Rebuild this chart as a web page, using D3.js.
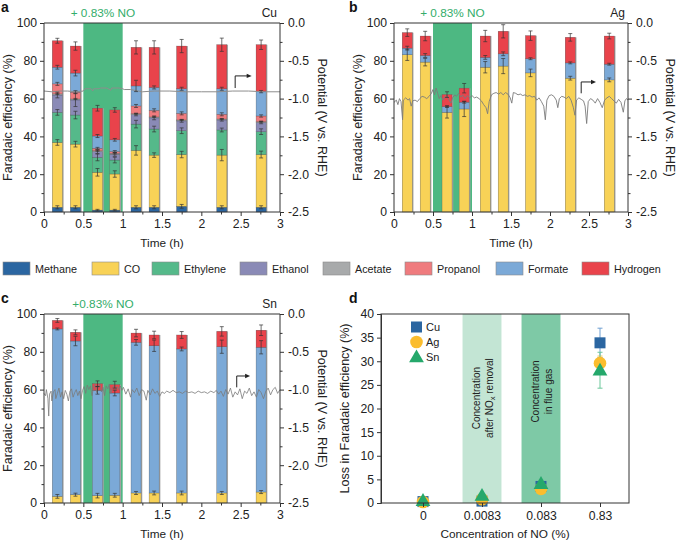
<!DOCTYPE html>
<html><head><meta charset="utf-8">
<script src="https://cdn.jsdelivr.net/npm/d3@7"></script>
<style>body{margin:0;background:#fff}svg{font-family:'Liberation Sans',Arial,Helvetica,sans-serif}</style>
</head><body><svg id="c" width="676" height="540"></svg>
<script>
// ---------- DATA ----------
const times = [0.17, 0.40, 0.68, 0.90, 1.17, 1.40, 1.75, 2.26, 2.76];
const noWindow = [0.5, 1.0];
const speciesNames = ["Methane","CO","Ethylene","Ethanol","Acetate","Propanol","Formate","Hydrogen"];
const speciesColors = ["#2b66a1","#f8d257","#55b98a","#8a8ab6","#a8aaab","#ef7b7e","#7ba9d7","#e9434b"];

// Cu (panel a)
const cuMethane  = [2.5, 2.5, 1.0, 1.0, 2.5, 2.5, 3.0, 2.5, 2.5];
const cuCO       = [34.3, 33.4, 20.0, 19.1, 30.1, 27.6, 27.4, 27.6, 27.9];
const cuEthylene = [15.9, 15.4, 7.9, 7.4, 13.9, 13.8, 12.6, 13.3, 12.1];
const cuEthanol  = [9.2, 8.0, 3.0, 3.0, 5.0, 5.9, 5.2, 5.3, 4.8];
const cuAcetate  = [0.6, 0.5, 0.5, 0.5, 0.5, 0.5, 0.5, 0.5, 0.5];
const cuPropanol = [5.3, 3.6, 1.3, 1.0, 4.1, 3.5, 3.5, 2.5, 3.0];
const cuFormate  = [8.8, 10.1, 6.5, 6.2, 10.6, 12.1, 13.0, 13.5, 12.9];
const cuHydrogen = [14.0, 14.3, 14.7, 15.8, 20.4, 21.2, 22.6, 23.3, 24.8];
const cuMethaneErr  = [0.8, 0.8, 0.4, 0.4, 0.8, 0.8, 1.0, 0.8, 0.8];
const cuCOErr       = [1.5, 1.5, 2.0, 1.7, 2.5, 1.2, 1.7, 3.0, 1.8];
const cuEthyleneErr = [1.5, 2.0, 1.8, 1.5, 2.0, 1.5, 1.5, 1.0, 1.5];
const cuEthanolErr  = [1.5, 3.5, 1.0, 1.0, 0.6, 1.0, 0.7, 0.6, 0.6];
const cuAcetateErr  = [0.3, 0.3, 0.3, 0.3, 0.3, 0.3, 0.3, 0.3, 0.3];
const cuPropanolErr = [0.8, 0.8, 0.5, 0.5, 0.8, 0.8, 0.8, 0.8, 0.6];
const cuFormateErr  = [1.0, 1.5, 0.8, 0.7, 3.0, 0.8, 0.8, 0.8, 0.6];
const cuHydrogenErr = [1.3, 2.2, 1.5, 1.2, 3.5, 3.5, 3.5, 3.5, 2.5];
const cuPotential = [[0,-0.90],[0.1,-0.91],[0.2,-0.90],[0.3,-0.90],[0.4,-0.91],[0.5,-0.90],[0.52,-0.87],[0.6,-0.87],[0.62,-0.90],[0.63,-0.87],[0.7,-0.87],[0.72,-0.86],[0.8,-0.86],[0.85,-0.89],[0.86,-0.86],[0.95,-0.86],[1.0,-0.87],[1.02,-0.88],[1.1,-0.88],[1.2,-0.90],[1.25,-0.91],[1.4,-0.90],[1.6,-0.90],[1.8,-0.91],[2.0,-0.91],[2.2,-0.91],[2.4,-0.90],[2.6,-0.90],[2.8,-0.91],[3.0,-0.91]];
const cuArrow = [2.43, -0.86, -0.70, 2.64];

// Ag (panel b)
const agCO       = [83.2, 79.3, 52.7, 54.5, 76.6, 77.2, 73.6, 70.8, 69.9];
const agFormate  = [3.5, 3.5, 3.1, 3.6, 5.2, 6.5, 7.5, 8.1, 8.3];
const agHydrogen = [8.2, 10.3, 6.3, 7.4, 11.3, 11.9, 12.2, 13.5, 14.9];
const agCOErr       = [3.0, 2.0, 3.0, 4.0, 3.0, 4.0, 2.0, 1.0, 1.0];
const agFormateErr  = [1.0, 1.0, 0.5, 0.5, 1.0, 1.0, 0.5, 0.5, 0.5];
const agHydrogenErr = [2.0, 2.5, 1.5, 2.5, 3.0, 3.5, 2.5, 2.0, 1.5];
const agPotential = [[0,-1.05],[0.03,-1.02],[0.05,-1.08],[0.07,-1.00],[0.09,-1.04],[0.11,-1.28],[0.12,-1.02],[0.15,-0.99],[0.18,-1.02],[0.20,-1.00],[0.22,-1.10],[0.24,-1.03],[0.27,-1.02],[0.30,-1.04],[0.33,-1.00],[0.36,-0.97],[0.39,-0.98],[0.42,-1.00],[0.45,-0.97],[0.48,-0.93],[0.50,-0.88],[0.52,-0.95],[0.54,-0.86],[0.56,-0.93],[0.58,-1.00],[0.60,-0.96],[0.63,-1.02],[0.65,-0.98],[0.68,-0.96],[0.70,-1.01],[0.73,-1.06],[0.75,-0.99],[0.78,-0.95],[0.80,-0.97],[0.83,-0.93],[0.86,-0.98],[0.88,-0.95],[0.91,-1.00],[0.94,-0.96],[0.97,-0.99],[1.00,-0.96],[1.03,-0.99],[1.06,-0.98],[1.09,-1.00],[1.12,-1.03],[1.15,-1.08],[1.18,-1.12],[1.20,-1.20],[1.22,-1.04],[1.25,-0.95],[1.28,-0.93],[1.31,-0.92],[1.34,-0.94],[1.37,-0.92],[1.40,-0.95],[1.43,-0.92],[1.46,-0.94],[1.49,-0.99],[1.51,-1.06],[1.53,-0.92],[1.56,-0.93],[1.59,-0.95],[1.62,-0.94],[1.65,-0.96],[1.68,-0.95],[1.71,-0.97],[1.74,-0.96],[1.77,-0.98],[1.80,-0.97],[1.83,-1.02],[1.86,-0.99],[1.89,-1.04],[1.92,-1.10],[1.94,-1.28],[1.96,-1.02],[1.99,-0.96],[2.02,-0.95],[2.05,-0.97],[2.08,-1.02],[2.10,-1.12],[2.12,-1.00],[2.15,-0.97],[2.18,-0.98],[2.21,-1.00],[2.24,-0.97],[2.27,-1.02],[2.30,-1.12],[2.32,-1.22],[2.34,-1.02],[2.37,-0.99],[2.40,-1.01],[2.43,-1.03],[2.45,-1.10],[2.47,-1.33],[2.49,-1.04],[2.52,-1.00],[2.55,-1.02],[2.58,-1.06],[2.61,-1.00],[2.64,-1.05],[2.67,-1.12],[2.70,-1.02],[2.73,-0.99],[2.76,-0.97],[2.79,-1.00],[2.82,-1.03],[2.85,-1.06],[2.88,-1.01],[2.91,-1.05],[2.94,-1.18],[2.96,-1.03],[2.98,-1.00],[3.00,-1.02]];
const agArrow = [2.40, -0.93, -0.78, 2.59];

// Sn (panel c)
const snCO       = [3.5, 4.4, 3.9, 4.1, 5.3, 5.3, 5.3, 5.3, 5.8];
const snFormate  = [88.6, 81.3, 55.7, 54.1, 79.7, 77.9, 76.2, 77.4, 76.6];
const snHydrogen = [4.5, 4.6, 3.5, 4.4, 4.9, 5.7, 7.4, 8.1, 9.0];
const snCOErr       = [1.0, 0.8, 1.2, 1.0, 0.8, 1.0, 1.0, 0.8, 0.8];
const snFormateErr  = [0.5, 2.5, 2.0, 1.5, 1.5, 3.0, 1.0, 3.5, 3.5];
const snHydrogenErr = [1.0, 1.3, 1.5, 1.8, 2.0, 2.0, 1.8, 2.5, 2.8];
const snPotential = [[0,-1.05],[0.02,-1.08],[0.03,-1.00],[0.05,-1.12],[0.06,-1.35],[0.07,-1.06],[0.09,-1.02],[0.10,-1.15],[0.12,-1.03],[0.14,-1.00],[0.15,-1.12],[0.17,-1.05],[0.19,-0.98],[0.21,-1.10],[0.23,-1.03],[0.25,-1.12],[0.27,-1.01],[0.29,-1.06],[0.31,-1.15],[0.33,-1.02],[0.35,-0.99],[0.37,-1.10],[0.39,-1.04],[0.41,-1.00],[0.43,-1.08],[0.45,-1.02],[0.47,-1.12],[0.49,-1.01],[0.51,-0.96],[0.53,-1.05],[0.55,-0.94],[0.57,-1.00],[0.59,-0.95],[0.61,-1.08],[0.63,-0.97],[0.65,-0.93],[0.67,-1.04],[0.69,-0.96],[0.71,-0.92],[0.73,-1.03],[0.75,-0.97],[0.77,-1.08],[0.79,-0.95],[0.81,-0.99],[0.83,-0.93],[0.85,-1.05],[0.87,-0.97],[0.89,-0.95],[0.91,-1.02],[0.93,-0.96],[0.95,-1.00],[0.97,-0.95],[0.99,-1.01],[1.01,-0.97],[1.04,-1.06],[1.07,-0.99],[1.10,-1.10],[1.12,-1.00],[1.15,-1.04],[1.18,-0.98],[1.21,-1.08],[1.24,-1.00],[1.27,-1.02],[1.30,-1.14],[1.32,-1.01],[1.35,-1.07],[1.38,-0.99],[1.41,-1.05],[1.44,-1.02],[1.47,-1.09],[1.50,-1.03],[1.53,-1.05],[1.56,-1.02],[1.60,-1.04],[1.64,-1.01],[1.68,-1.04],[1.72,-1.03],[1.76,-1.05],[1.80,-1.02],[1.84,-1.04],[1.88,-1.03],[1.92,-1.05],[1.96,-1.02],[2.00,-1.04],[2.04,-1.03],[2.08,-1.05],[2.12,-1.02],[2.16,-1.04],[2.19,-1.01],[2.22,-1.06],[2.25,-1.02],[2.28,-1.09],[2.31,-1.00],[2.34,-1.06],[2.37,-0.98],[2.40,-1.10],[2.43,-1.03],[2.46,-1.07],[2.49,-0.99],[2.52,-1.12],[2.55,-1.02],[2.58,-1.05],[2.61,-0.98],[2.64,-1.08],[2.67,-1.03],[2.70,-1.10],[2.73,-1.00],[2.76,-1.04],[2.79,-1.12],[2.82,-1.02],[2.85,-0.98],[2.88,-1.07],[2.91,-1.00],[2.94,-0.97],[2.97,-1.05],[3.00,-1.00]];
const snArrow = [2.45, -0.97, -0.82, 2.62];

// Ticks
const feTicks = [0, 20, 40, 60, 80, 100];
const feMinor = [10, 30, 50, 70, 90];
const potTicks = [-2.5, -2.0, -1.5, -1.0, -0.5, 0.0];
const potMinor = [-2.25, -1.75, -1.25, -0.75, -0.25];
const timeTicks = [0, 0.5, 1, 1.5, 2, 2.5, 3];
const timeMinor = [0.25, 0.75, 1.25, 1.75, 2.25, 2.75];

// Panel d
const noConc = ["0", "0.0083", "0.083", "0.83"];
const lossCu = [0.3, 0.4, 3.5, 33.9];
const lossAg = [0.2, 0.8, 3.0, 29.6];
const lossSn = [0.5, 1.6, 4.1, 28.1];
const lossCuErr = [0.3, 0.3, 0.8, 3.1];
const lossAgErr = [0.3, 0.3, 0.6, 1.5];
const lossSnErr = [0.3, 0.4, 0.8, 3.8];
const lossTicks = [0, 5, 10, 15, 20, 25, 30, 35, 40];

// ---------- DRAWING ----------
const svg = d3.select("#c");
const AX = "#333";
const bandGreen = "#4db882";
const noTextGreen = "#33ad6b";
const colorOf = n => speciesColors[speciesNames.indexOf(n)];

function styleAxis(sel) {
  sel.selectAll("path").attr("stroke", AX).attr("stroke-width", 1);
  sel.selectAll("line").attr("stroke", AX).attr("stroke-width", 1);
  sel.selectAll("text").attr("fill", "#222").attr("font-size", 12.2);
}

function drawTimePanel(p) {
  const g = svg.append("g");
  const x = d3.scaleLinear().domain([0, 3]).range([p.left, p.right]);
  const y = d3.scaleLinear().domain([0, 100]).range([p.bottom, p.top]);
  const yr = d3.scaleLinear().domain([-2.5, 0]).range([p.bottom, p.top]);

  g.append("rect").attr("x", x(noWindow[0])).attr("width", x(noWindow[1]) - x(noWindow[0]))
    .attr("y", p.top).attr("height", p.bottom - p.top).attr("fill", bandGreen);

  const keys = p.series.map(s => s.name);
  const rows = times.map((t, i) => { const r = { t }; p.series.forEach(s => r[s.name] = s.values[i]); return r; });
  const stacked = d3.stack().keys(keys)(rows);
  const hw = 0.064;
  g.selectAll(null).data(stacked[stacked.length - 1]).join("rect")
    .attr("x", d => x(d.data.t - hw)).attr("width", d => x(d.data.t + hw) - x(d.data.t - hw) + 1.2)
    .attr("y", d => y(d[1])).attr("height", d => y(0) - y(d[1]))
    .attr("fill", "#a5a5a5");
  stacked.forEach((layer, li) => {
    g.selectAll(null).data(layer.filter(d => d[1] - d[0] > 0)).join("rect")
      .attr("x", d => x(d.data.t - hw)).attr("width", d => x(d.data.t + hw) - x(d.data.t - hw))
      .attr("y", d => y(d[1])).attr("height", d => y(d[0]) - y(d[1]))
      .attr("fill", colorOf(keys[li]))
      .attr("stroke", "rgba(60,60,60,0.45)").attr("stroke-width", 0.5);
  });

  g.append("path").datum(p.potential)
    .attr("d", d3.line().x(d => x(d[0])).y(d => yr(d[1])))
    .attr("fill", "none").attr("stroke", p.lineColor).attr("stroke-width", p.lineWidth);

  stacked.forEach((layer, li) => {
    const err = p.series[li].err;
    layer.forEach((d, i) => {
      if (d[1] - d[0] <= 0) return;
      const cx = x(d.data.t), top = y(d[1] + err[i]), bot = y(d[1] - err[i]);
      g.append("line").attr("x1", cx).attr("x2", cx).attr("y1", top).attr("y2", bot).attr("stroke", "#333").attr("stroke-width", 0.7);
      [top, bot].forEach(yy => g.append("line").attr("x1", cx - 2).attr("x2", cx + 2).attr("y1", yy).attr("y2", yy).attr("stroke", "#333").attr("stroke-width", 0.7));
    });
  });

  const a = p.arrow;
  g.append("path").attr("d", `M${x(a[0])},${yr(a[1])}V${yr(a[2])}H${x(a[3]) - 4}`)
    .attr("fill", "none").attr("stroke", "#222").attr("stroke-width", 1);
  g.append("path").attr("d", `M${x(a[3])},${yr(a[2])}l-5,-2.2v4.4z`).attr("fill", "#222");

  g.append("line").attr("x1", p.left).attr("x2", p.right).attr("y1", p.top).attr("y2", p.top).attr("stroke", AX);

  const gl = g.append("g").attr("transform", `translate(${p.left},0)`)
    .call(d3.axisLeft(y).tickValues(feTicks).tickSize(4).tickPadding(3).tickFormat(d => String(d)));
  styleAxis(gl);
  const glm = g.append("g").attr("transform", `translate(${p.left},0)`)
    .call(d3.axisLeft(y).tickValues(feMinor).tickSize(2.5).tickFormat(""));
  styleAxis(glm); glm.select("path").remove();
  const gr = g.append("g").attr("transform", `translate(${p.right},0)`)
    .call(d3.axisRight(yr).tickValues(potTicks).tickSize(4).tickPadding(4).tickFormat(d => d.toFixed(1)));
  styleAxis(gr);
  const grm = g.append("g").attr("transform", `translate(${p.right},0)`)
    .call(d3.axisRight(yr).tickValues(potMinor).tickSize(2.5).tickFormat(""));
  styleAxis(grm); grm.select("path").remove();
  const gb = g.append("g").attr("transform", `translate(0,${p.bottom})`)
    .call(d3.axisBottom(x).tickValues(timeTicks).tickSize(4).tickPadding(3).tickFormat(d => String(d)));
  styleAxis(gb);
  const gbm = g.append("g").attr("transform", `translate(0,${p.bottom})`)
    .call(d3.axisBottom(x).tickValues(timeMinor).tickSize(2.5).tickFormat(""));
  styleAxis(gbm); gbm.select("path").remove();
  [gl, gr, gb].forEach(s => s.select(".domain").attr("d", null));
  gl.append("line").attr("y1", p.top).attr("y2", p.bottom).attr("stroke", AX);
  gr.append("line").attr("y1", p.top).attr("y2", p.bottom).attr("stroke", AX);
  gb.append("line").attr("x1", p.left).attr("x2", p.right).attr("stroke", AX);

  const cy = (p.top + p.bottom) / 2;
  g.append("text").attr("transform", `translate(${p.left - 32},${cy}) rotate(-90)`)
    .attr("text-anchor", "middle").attr("font-size", 12.5).attr("fill", "#222").text("Faradaic efficiency (%)");
  g.append("text").attr("transform", `translate(${p.right + 38},${cy}) rotate(90)`)
    .attr("text-anchor", "middle").attr("font-size", 12.5).attr("fill", "#222").text("Potential (V vs. RHE)");
  g.append("text").attr("x", (p.left + p.right) / 2).attr("y", p.bottom + 35)
    .attr("text-anchor", "middle").attr("font-size", 11.8).attr("fill", "#222").text("Time (h)");
  g.append("text").attr("x", x((noWindow[0] + noWindow[1]) / 2)).attr("y", p.top - 6)
    .attr("text-anchor", "middle").attr("font-size", 11.8).attr("fill", noTextGreen).text(p.noLabel);
  g.append("text").attr("x", p.right - 3).attr("y", p.top - 6)
    .attr("text-anchor", "end").attr("font-size", 12).attr("fill", "#222").text(p.metal);
  g.append("text").attr("x", p.labelX).attr("y", p.top - 11)
    .attr("font-size", 14).attr("font-weight", "bold").attr("fill", "#111").text(p.letter);
}

drawTimePanel({
  left: 44, right: 280, top: 23, bottom: 212, letter: "a", labelX: 1, metal: "Cu", noLabel: "+ 0.83% NO",
  lineColor: "#8d8d8d", lineWidth: 1, potential: cuPotential, arrow: cuArrow,
  series: [
    { name: "Methane", values: cuMethane, err: cuMethaneErr },
    { name: "CO", values: cuCO, err: cuCOErr },
    { name: "Ethylene", values: cuEthylene, err: cuEthyleneErr },
    { name: "Ethanol", values: cuEthanol, err: cuEthanolErr },
    { name: "Acetate", values: cuAcetate, err: cuAcetateErr },
    { name: "Propanol", values: cuPropanol, err: cuPropanolErr },
    { name: "Formate", values: cuFormate, err: cuFormateErr },
    { name: "Hydrogen", values: cuHydrogen, err: cuHydrogenErr }
  ]
});
drawTimePanel({
  left: 394, right: 628, top: 23, bottom: 212, letter: "b", labelX: 349, metal: "Ag", noLabel: "+ 0.83% NO",
  lineColor: "#7a7a7a", lineWidth: 0.9, potential: agPotential, arrow: agArrow,
  series: [
    { name: "CO", values: agCO, err: agCOErr },
    { name: "Formate", values: agFormate, err: agFormateErr },
    { name: "Hydrogen", values: agHydrogen, err: agHydrogenErr }
  ]
});
drawTimePanel({
  left: 44, right: 280, top: 314, bottom: 503, letter: "c", labelX: 1, metal: "Sn", noLabel: "+0.83% NO",
  lineColor: "#7a7a7a", lineWidth: 0.8, potential: snPotential, arrow: snArrow,
  series: [
    { name: "CO", values: snCO, err: snCOErr },
    { name: "Formate", values: snFormate, err: snFormateErr },
    { name: "Hydrogen", values: snHydrogen, err: snHydrogenErr }
  ]
});

// legend
const legendX = [3, 92, 152, 240, 323, 405, 496, 582];
const lg = svg.append("g");
speciesNames.forEach((n, i) => {
  lg.append("rect").attr("x", legendX[i]).attr("y", 262).attr("width", 27).attr("height", 13)
    .attr("fill", speciesColors[i]).attr("stroke", "#8a8a8a").attr("stroke-width", 0.6);
  lg.append("text").attr("x", legendX[i] + 32).attr("y", 272.5).attr("font-size", 10.8).attr("fill", "#222").text(n);
});

// panel d
(function () {
  const L = 381, R = 629, T = 314, B = 503;
  const g = svg.append("g");
  const x = d3.scalePoint().domain(noConc).range([L + 42, R - 29]);
  const y = d3.scaleLinear().domain([0, 40]).range([B, T]);
  const step = x(noConc[1]) - x(noConc[0]);
  const bands = [{ c: noConc[1], fill: "#c3e5d4" }, { c: noConc[2], fill: "#7ec9a6" }];
  bands.forEach(b => {
    g.append("rect").attr("x", x(b.c) - step * 0.33).attr("width", step * 0.66).attr("y", T).attr("height", B - T).attr("fill", b.fill);
  });
  const t1 = g.append("text").attr("transform", `translate(${x(noConc[1])},${y(22.2)}) rotate(-90)`)
    .attr("text-anchor", "middle").attr("font-size", 10).attr("fill", "#222");
  t1.append("tspan").attr("x", 0).attr("dy", -2).text("Concentration");
  t1.append("tspan").attr("x", 0).attr("dy", 12.5).text("after NO");
  t1.append("tspan").attr("font-size", 7.5).attr("dy", 2).text("x");
  t1.append("tspan").attr("dy", -2).text(" removal");
  const t2 = g.append("text").attr("transform", `translate(${x(noConc[2])},${y(23.6)}) rotate(-90)`)
    .attr("text-anchor", "middle").attr("font-size", 10).attr("fill", "#222");
  t2.append("tspan").attr("x", 0).attr("dy", -2).text("Concentration");
  t2.append("tspan").attr("x", 0).attr("dy", 12.5).text("in flue gas");

  const errs = [[lossCu, lossCuErr, "#6f9fd2"], [lossAg, lossAgErr, "#f6c54a"], [lossSn, lossSnErr, "#6cc79b"]];
  errs.forEach(([v, e, col]) => {
    noConc.forEach((c, i) => {
      const cx = x(c);
      g.append("line").attr("x1", cx).attr("x2", cx).attr("y1", y(v[i] + e[i])).attr("y2", y(v[i] - e[i])).attr("stroke", col).attr("stroke-width", 1);
      [v[i] + e[i], v[i] - e[i]].forEach(val => g.append("line").attr("x1", cx - 2.5).attr("x2", cx + 2.5).attr("y1", y(val)).attr("y2", y(val)).attr("stroke", col).attr("stroke-width", 1));
    });
  });
  const cuCol = "#2b66a1", agCol = "#fbbd2e", snCol = "#25a86b";
  const tri = d3.symbol().type(d3.symbolTriangle).size(95);
  g.selectAll(null).data(noConc).join("rect").attr("x", (c) => x(c) - 5.5).attr("y", (c, i) => y(lossCu[i]) - 5.5)
    .attr("width", 11).attr("height", 11).attr("fill", cuCol);
  g.selectAll(null).data(noConc).join("circle").attr("cx", c => x(c)).attr("cy", (c, i) => y(lossAg[i])).attr("r", 6.3).attr("fill", agCol);
  g.selectAll(null).data(noConc).join("path").attr("d", tri).attr("transform", (c, i) => `translate(${x(c)},${y(lossSn[i]) + 1})`).attr("fill", snCol);

  g.append("rect").attr("x", 411).attr("y", 321.5).attr("width", 11).attr("height", 11).attr("fill", cuCol);
  g.append("circle").attr("cx", 416.5).attr("cy", 342).attr("r", 6.3).attr("fill", agCol);
  g.append("path").attr("d", tri).attr("transform", "translate(416.5,358)").attr("fill", snCol);
  [["Cu", 331], ["Ag", 346], ["Sn", 361]].forEach(([t, yy]) =>
    g.append("text").attr("x", 426).attr("y", yy).attr("font-size", 11).attr("fill", "#222").text(t));

  g.append("rect").attr("x", L).attr("y", T).attr("width", R - L).attr("height", B - T).attr("fill", "none").attr("stroke", AX);
  const gl = g.append("g").attr("transform", `translate(${L},0)`)
    .call(d3.axisLeft(y).tickValues(lossTicks).tickSize(4).tickPadding(3).tickFormat(d => String(d)));
  styleAxis(gl);
  const gb = g.append("g").attr("transform", `translate(0,${B})`)
    .call(d3.axisBottom(x).tickSize(4).tickPadding(4));
  styleAxis(gb);
  gb.select(".domain").remove();
  g.append("text").attr("transform", `translate(${L - 32},${(T + B) / 2}) rotate(-90)`)
    .attr("text-anchor", "middle").attr("font-size", 12.5).attr("fill", "#222").text("Loss in Faradaic efficiency (%)");
  g.append("text").attr("x", (L + R) / 2).attr("y", B + 35).attr("text-anchor", "middle")
    .attr("font-size", 11.8).attr("fill", "#222").text("Concentration of NO (%)");
  g.append("text").attr("x", 349).attr("y", T - 11).attr("font-size", 14).attr("font-weight", "bold").attr("fill", "#111").text("d");
})();
</script></body></html>
